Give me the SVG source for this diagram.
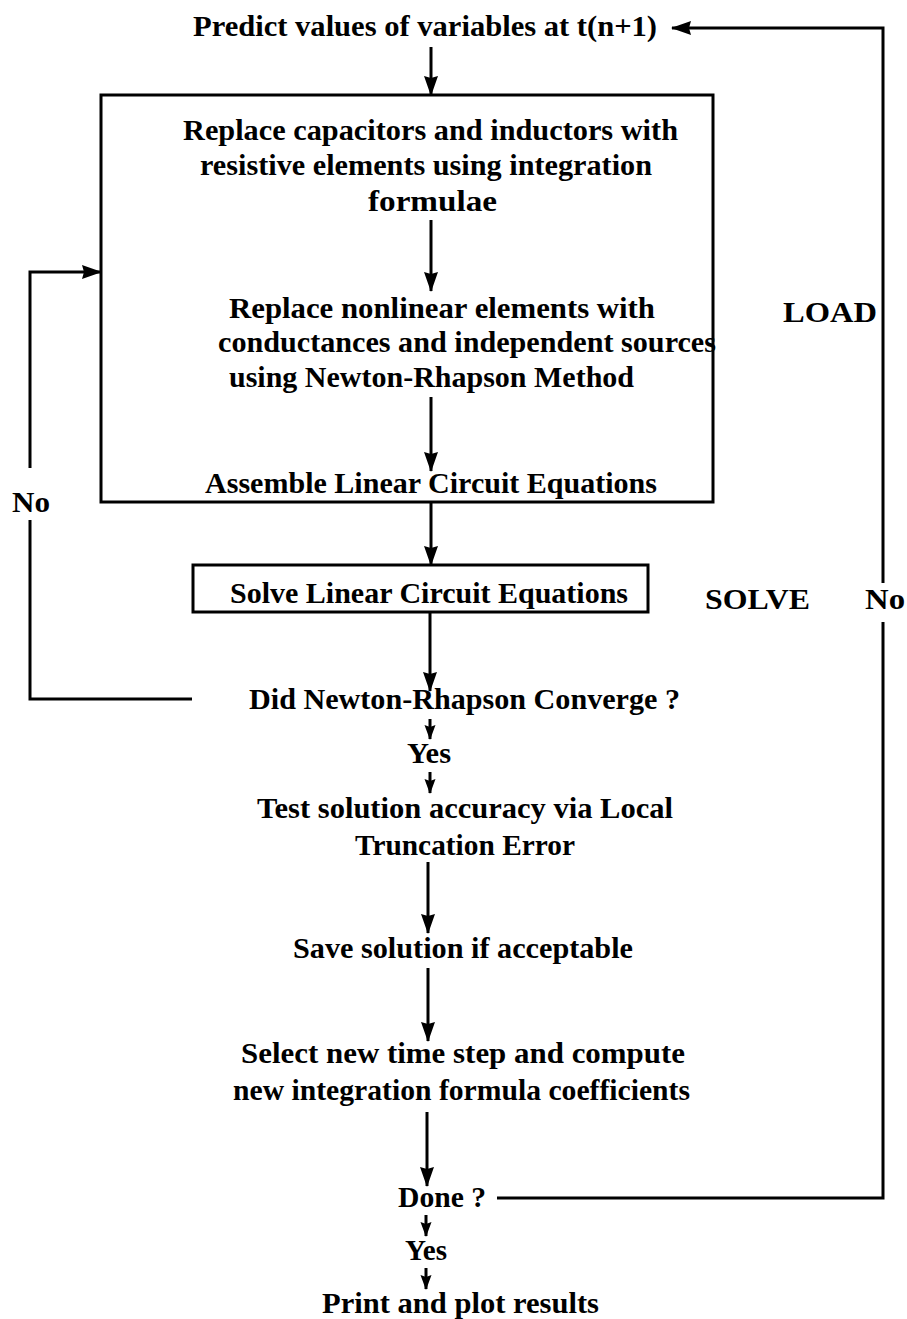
<svg xmlns="http://www.w3.org/2000/svg" width="907" height="1319" viewBox="0 0 907 1319">
<style>
text{font-family:"Liberation Serif","DejaVu Serif",serif;font-weight:bold;font-size:30px;fill:#000}
.ln{fill:none;stroke:#000;stroke-width:3}
.box{fill:none;stroke:#000;stroke-width:3}
</style>
<defs>
<marker id="ah" markerWidth="20" markerHeight="15" refX="19" refY="7.5" orient="auto" markerUnits="userSpaceOnUse">
<path d="M0,0.5 L20,7.5 L0,14.5 L2,7.5 Z" fill="#000"/>
</marker>
<marker id="sh" markerWidth="15" markerHeight="12" refX="14" refY="6" orient="auto" markerUnits="userSpaceOnUse">
<path d="M0,0.5 L15,6 L0,11.5 L2,6 Z" fill="#000"/>
</marker>
</defs>
<g id="connectors">
<line class="ln" x1="431" y1="47" x2="431" y2="95" marker-end="url(#ah)"/>
<line class="ln" x1="431" y1="220" x2="431" y2="291" marker-end="url(#ah)"/>
<line class="ln" x1="431" y1="397" x2="431" y2="471" marker-end="url(#ah)"/>
<line class="ln" x1="431" y1="503" x2="431" y2="565" marker-end="url(#ah)"/>
<line class="ln" x1="430" y1="613" x2="430" y2="691" marker-end="url(#ah)"/>
<line class="ln" x1="430" y1="719" x2="430" y2="739" marker-end="url(#sh)"/>
<line class="ln" x1="430" y1="772" x2="430" y2="793" marker-end="url(#sh)"/>
<line class="ln" x1="428" y1="862" x2="428" y2="933" marker-end="url(#ah)"/>
<line class="ln" x1="428" y1="968" x2="428" y2="1041" marker-end="url(#ah)"/>
<line class="ln" x1="427" y1="1112" x2="427" y2="1186" marker-end="url(#ah)"/>
<line class="ln" x1="426" y1="1215" x2="426" y2="1236" marker-end="url(#sh)"/>
<line class="ln" x1="426" y1="1268" x2="426" y2="1289" marker-end="url(#sh)"/>
<polyline class="ln" points="192,699 30,699 30,520"/>
<polyline class="ln" points="30,468 30,272 101,272" marker-end="url(#ah)"/>
<polyline class="ln" points="497,1198 883,1198 883,622"/>
<polyline class="ln" points="883,583 883,28 672,28" marker-end="url(#ah)"/>
</g>
<g id="predict">
<text x="193" y="36" textLength="464" lengthAdjust="spacingAndGlyphs">Predict values of variables at t(n+1)</text>
</g>
<g id="load-box">
<rect class="box" x="101" y="95" width="612" height="407"/>
<text x="183" y="140" textLength="495" lengthAdjust="spacingAndGlyphs">Replace capacitors and inductors with</text>
<text x="200" y="175" textLength="452" lengthAdjust="spacingAndGlyphs">resistive elements using integration</text>
<text x="368" y="211" textLength="129" lengthAdjust="spacingAndGlyphs">formulae</text>
<text x="229" y="318" textLength="426" lengthAdjust="spacingAndGlyphs">Replace nonlinear elements with</text>
<text x="218" y="352" textLength="498" lengthAdjust="spacingAndGlyphs">conductances and independent sources</text>
<text x="229" y="387" textLength="405" lengthAdjust="spacingAndGlyphs">using Newton-Rhapson Method</text>
<text x="205" y="493" textLength="452" lengthAdjust="spacingAndGlyphs">Assemble Linear Circuit Equations</text>
</g>
<g id="load-label"><text x="783" y="322" textLength="94" lengthAdjust="spacingAndGlyphs">LOAD</text></g>
<g id="solve-box">
<rect class="box" x="193" y="565" width="455" height="47"/>
<text x="230" y="603" textLength="398" lengthAdjust="spacingAndGlyphs">Solve Linear Circuit Equations</text>
</g>
<g id="solve-label"><text x="705" y="609" textLength="105" lengthAdjust="spacingAndGlyphs">SOLVE</text></g>
<g id="no-right"><text x="865" y="609" textLength="40" lengthAdjust="spacingAndGlyphs">No</text></g>
<g id="no-left"><text x="12" y="512" textLength="38" lengthAdjust="spacingAndGlyphs">No</text></g>
<g id="converge"><text x="249" y="709" textLength="431" lengthAdjust="spacingAndGlyphs">Did Newton-Rhapson Converge ?</text></g>
<g id="yes1"><text x="407" y="763" textLength="44" lengthAdjust="spacingAndGlyphs">Yes</text></g>
<g id="test">
<text x="257" y="818" textLength="416" lengthAdjust="spacingAndGlyphs">Test solution accuracy via Local</text>
<text x="355" y="855" textLength="220" lengthAdjust="spacingAndGlyphs">Truncation Error</text>
</g>
<g id="save"><text x="293" y="958" textLength="340" lengthAdjust="spacingAndGlyphs">Save solution if acceptable</text></g>
<g id="select">
<text x="241" y="1063" textLength="444" lengthAdjust="spacingAndGlyphs">Select new time step and compute</text>
<text x="233" y="1100" textLength="457" lengthAdjust="spacingAndGlyphs">new integration formula coefficients</text>
</g>
<g id="done"><text x="398" y="1207" textLength="88" lengthAdjust="spacingAndGlyphs">Done ?</text></g>
<g id="yes2"><text x="405" y="1260" textLength="42" lengthAdjust="spacingAndGlyphs">Yes</text></g>
<g id="print"><text x="322" y="1313" textLength="277" lengthAdjust="spacingAndGlyphs">Print and plot results</text></g>
</svg>
